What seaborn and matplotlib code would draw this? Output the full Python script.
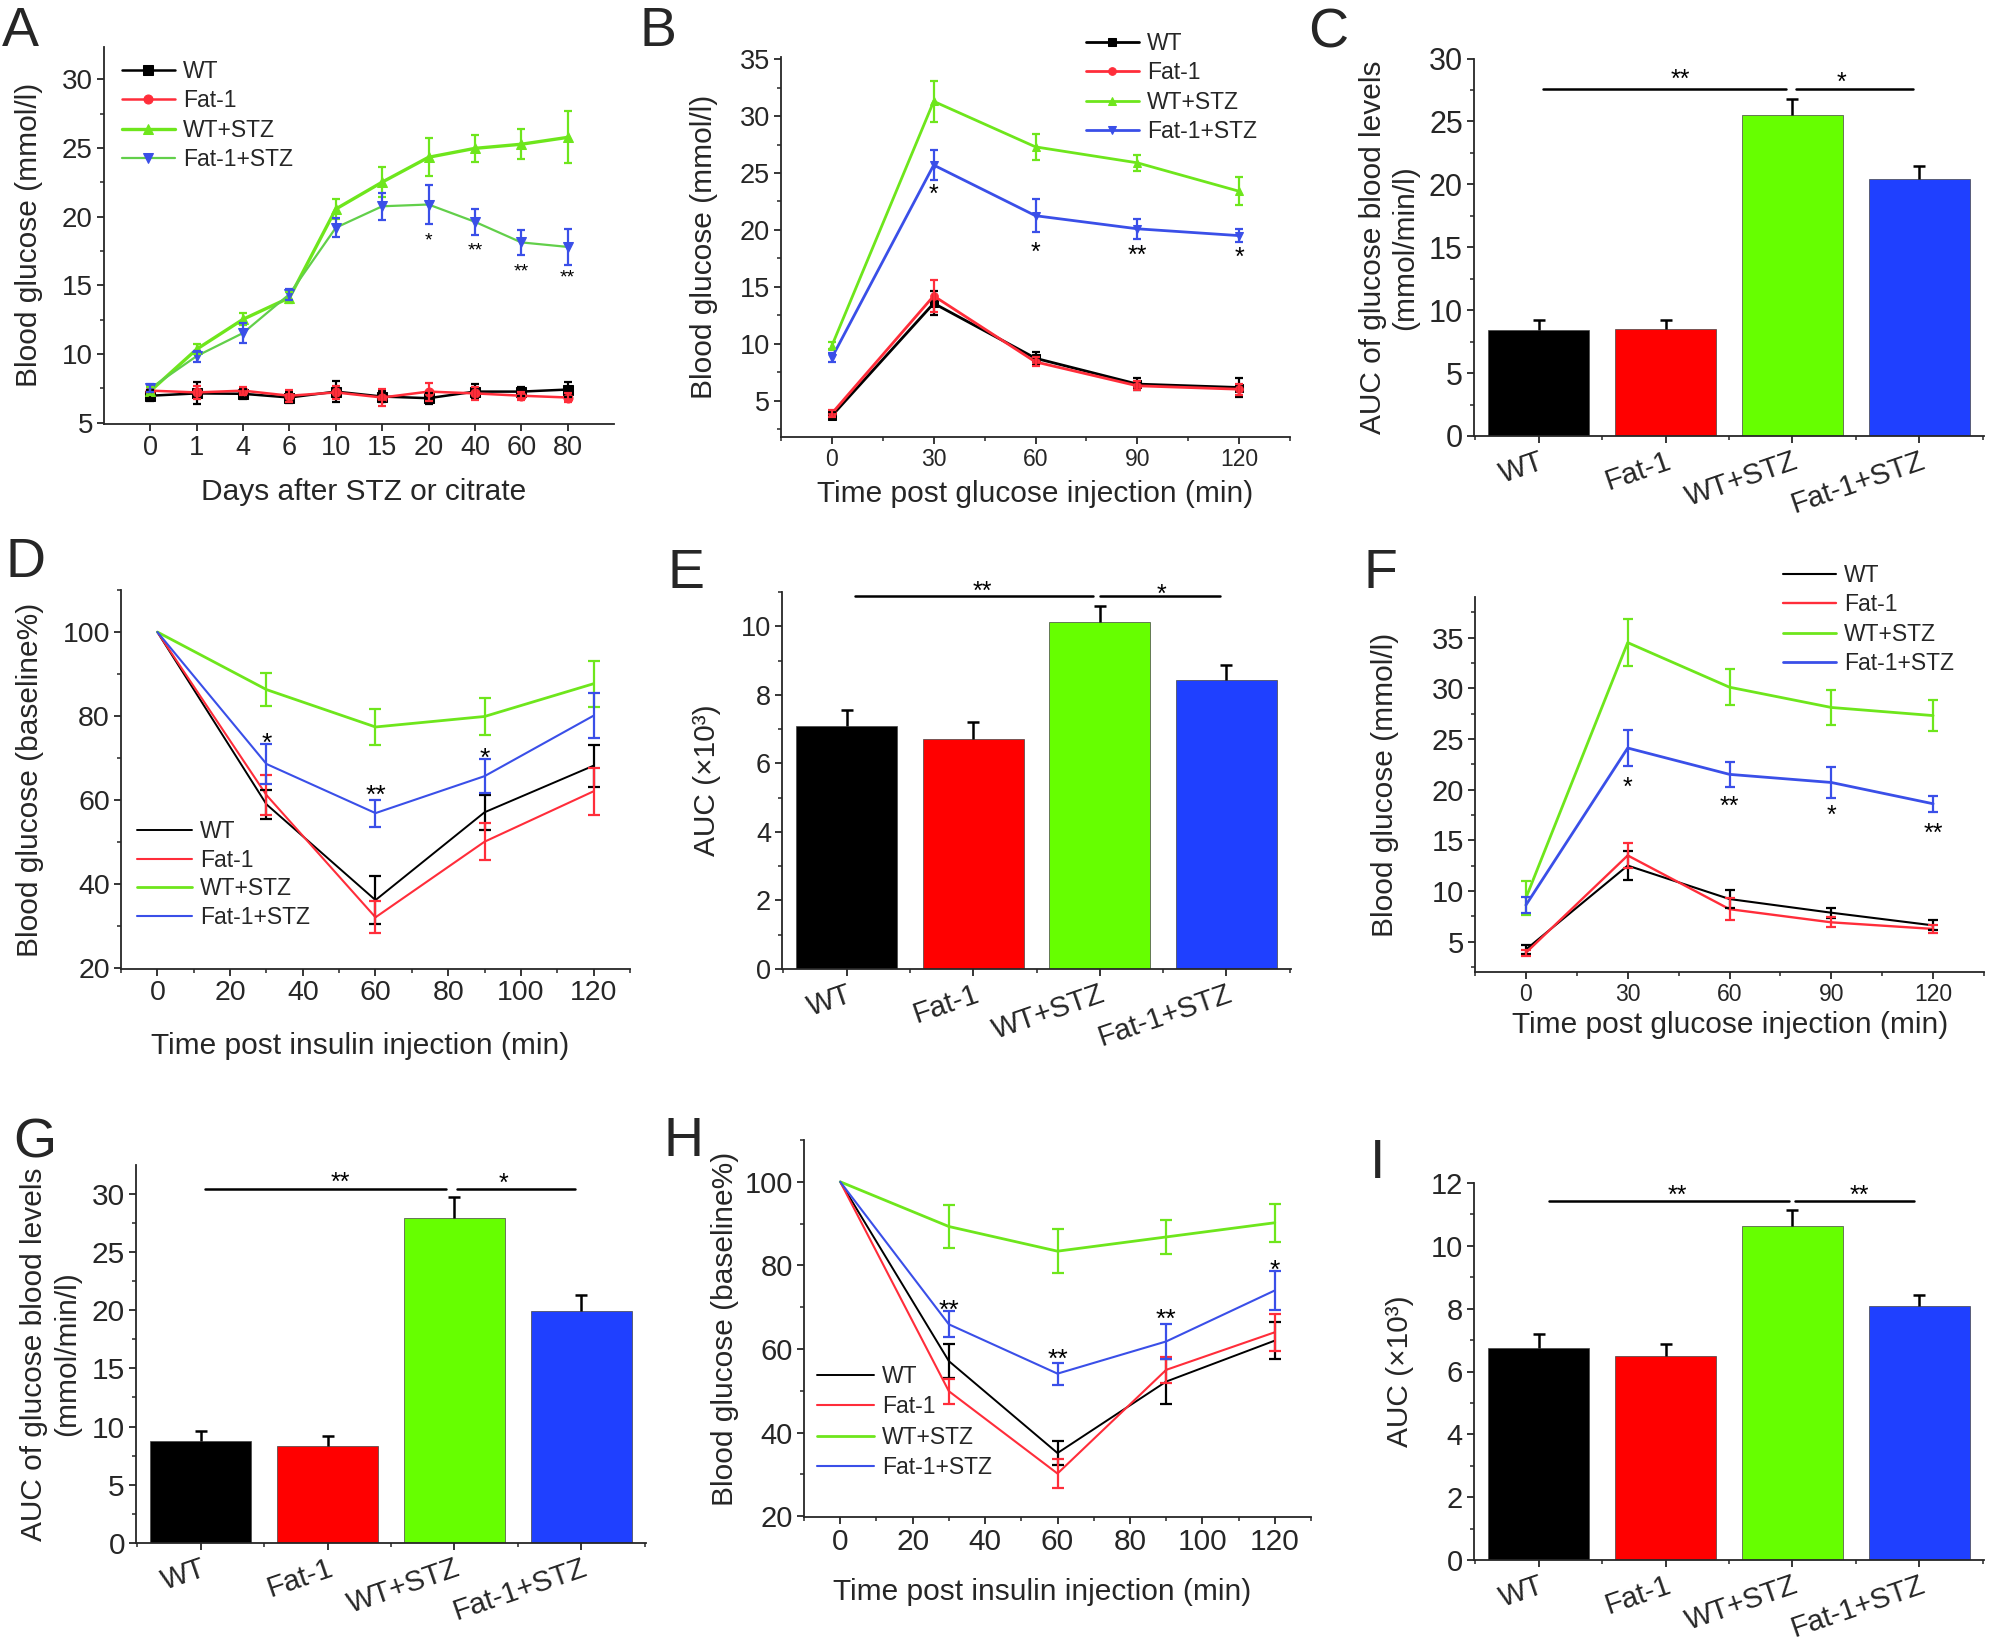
import numpy as np
import pandas as pd
import matplotlib
matplotlib.use("Agg")
import matplotlib.pyplot as plt
from matplotlib.ticker import MultipleLocator
import seaborn as sns

sns.set_style("ticks")
plt.rcParams['font.family'] = ['Liberation Sans', 'DejaVu Sans']

W, H = 1997, 1650

groups = ["WT", "Fat-1", "WT+STZ", "Fat-1+STZ"]
line_col = {"WT": "#000000", "Fat-1": "#ff2d3a", "WT+STZ": "#6ee61c", "Fat-1+STZ": "#3a4fe8"}
bar_col = ["#000000", "#ff0000", "#66ff00", "#1f40ff"]
markers = {"WT": "s", "Fat-1": "o", "WT+STZ": "^", "Fat-1+STZ": "v"}

# ---- A: blood glucose after STZ
a_days = ["0", "1", "4", "6", "10", "15", "20", "40", "60", "80"]
a_wt = [6.96, 7.13, 7.10, 6.83, 7.26, 6.90, 6.78, 7.26, 7.26, 7.41]
a_wt_err = [0.4, 0.8, 0.35, 0.4, 0.75, 0.4, 0.4, 0.55, 0.3, 0.55]
a_fat = [7.33, 7.20, 7.33, 6.96, 7.20, 6.83, 7.26, 7.13, 6.96, 6.83]
a_fat_err = [0.3, 0.5, 0.3, 0.45, 0.5, 0.65, 0.65, 0.5, 0.3, 0.35]
a_wtstz = [7.3, 10.35, 12.53, 14.1, 20.56, 22.52, 24.33, 24.98, 25.28, 25.78]
a_wtstz_err = [0.3, 0.35, 0.45, 0.4, 0.75, 1.1, 1.4, 1.0, 1.1, 1.9]
a_fatstz = [7.5, 9.85, 11.53, 14.36, 19.2, 20.76, 20.89, 19.63, 18.13, 17.8]
a_fatstz_err = [0.3, 0.4, 0.7, 0.4, 0.7, 1.0, 1.45, 0.95, 0.9, 1.3]
a_star_x = [6, 7, 8, 9]
a_star_y = [18.7, 17.95, 16.4, 16.0]
a_star_t = ["*", "**", "**", "**"]

# ---- B: GTT
time_min = [0, 30, 60, 90, 120]
b_wt = [3.67, 13.55, 8.72, 6.45, 6.15]
b_wt_err = [0.3, 1.05, 0.55, 0.55, 0.85]
b_fat = [3.88, 14.2, 8.4, 6.3, 6.0]
b_fat_err = [0.3, 1.4, 0.4, 0.4, 0.5]
b_wtstz = [9.83, 31.3, 27.3, 25.9, 23.4]
b_wtstz_err = [0.3, 1.8, 1.15, 0.7, 1.25]
b_fatstz = [8.78, 25.7, 21.25, 20.1, 19.5]
b_fatstz_err = [0.4, 1.3, 1.45, 0.9, 0.6]
b_star_x = [30, 60, 90, 120]
b_star_y = [23.7, 18.6, 18.3, 18.1]
b_star_t = ["*", "*", "**", "*"]

# ---- C: AUC of GTT
c_auc = [8.45, 8.5, 25.5, 20.4]
c_err = [0.75, 0.75, 1.3, 1.05]
c_sig_y = 27.6
c_sig_spans = [(0.03, 1.95), (2.03, 2.95)]
c_star_x = [1.12, 2.39]
c_star_y = [28.8, 28.6]
c_star_t = ["**", "*"]

# ---- D: ITT
d_wt = [100, 59.0, 36.2, 57.1, 68.2]
d_wt_err = [0, 3.5, 5.7, 4.2, 5.0]
d_fat = [100, 61.2, 32.1, 50.1, 62.1]
d_fat_err = [0, 4.8, 3.8, 4.4, 5.6]
d_wtstz = [100, 86.3, 77.4, 79.9, 87.7]
d_wtstz_err = [0, 3.9, 4.3, 4.5, 5.5]
d_fatstz = [100, 68.6, 56.9, 65.7, 80.1]
d_fatstz_err = [0, 4.7, 3.2, 4.0, 5.3]
d_star_x = [30, 60, 90]
d_star_y = [75.2, 62.9, 71.5]
d_star_t = ["*", "**", "*"]

# ---- E: AUC of ITT
e_auc = [7.09, 6.72, 10.12, 8.44]
e_err = [0.48, 0.48, 0.48, 0.43]
e_sig_y = 10.88
e_sig_spans = [(0.07, 1.95), (2.0, 2.95)]
e_star_x = [1.07, 2.49]
e_star_y = [11.2, 11.1]
e_star_t = ["**", "*"]

# ---- F: GTT (second cohort)
f_wt = [4.22, 12.5, 9.2, 7.85, 6.6]
f_wt_err = [0.4, 1.4, 0.85, 0.5, 0.5]
f_fat = [3.9, 13.5, 8.2, 6.9, 6.25]
f_fat_err = [0.3, 1.2, 1.1, 0.5, 0.4]
f_wtstz = [9.3, 34.5, 30.1, 28.1, 27.3]
f_wtstz_err = [1.7, 2.35, 1.8, 1.7, 1.55]
f_fatstz = [8.6, 24.1, 21.5, 20.7, 18.6]
f_fatstz_err = [0.8, 1.8, 1.25, 1.5, 0.8]
f_star_x = [30, 60, 90, 120]
f_star_y = [20.8, 19.0, 18.1, 16.3]
f_star_t = ["*", "**", "*", "**"]

# ---- G: AUC of F
g_auc = [8.74, 8.37, 27.9, 19.9]
g_err = [0.86, 0.83, 1.8, 1.35]
g_sig_y = 30.4
g_sig_spans = [(0.03, 1.93), (2.02, 2.95)]
g_star_x = [1.1, 2.39]
g_star_y = [31.5, 31.4]
g_star_t = ["**", "*"]

# ---- H: ITT (second cohort)
h_wt = [100, 57.1, 35.1, 52.2, 62.0]
h_wt_err = [0, 4.1, 2.8, 5.3, 4.5]
h_fat = [100, 49.9, 30.2, 55.0, 64.0]
h_fat_err = [0, 3.0, 3.4, 3.1, 4.4]
h_wtstz = [100, 89.3, 83.4, 86.8, 90.2]
h_wtstz_err = [0, 5.2, 5.2, 4.1, 4.5]
h_fatstz = [100, 65.9, 54.1, 61.8, 74.0]
h_fatstz_err = [0, 3.1, 2.65, 4.25, 4.7]
h_star_x = [30, 60, 90, 120]
h_star_y = [71.0, 59.1, 68.7, 80.6]
h_star_t = ["**", "**", "**", "*"]

# ---- I: AUC of H
i_auc = [6.75, 6.5, 10.62, 8.07]
i_err = [0.43, 0.36, 0.51, 0.36]
i_sig_y = 11.42
i_sig_spans = [(0.08, 1.97), (2.02, 2.96)]
i_star_x = [1.09, 2.53]
i_star_y = [11.8, 11.8]
i_star_t = ["**", "**"]


def place(l, t, r, b):
    return [l / W, 1 - b / H, (r - l) / W, (b - t) / H]


def style_axes(ax, xsize, ysize):
    sns.despine(ax=ax)
    for s in ("left", "bottom"):
        ax.spines[s].set_linewidth(1.3)
    ax.tick_params(which="major", direction="out", length=5, width=1.3, pad=3)
    ax.tick_params(which="minor", direction="out", length=3, width=1.1)
    ax.tick_params(axis="x", labelsize=xsize)
    ax.tick_params(axis="y", labelsize=ysize)


def set_labels(ax, rect, xlabel, ylabel, xcx=None, xcy=None, ycx=None, fs=21.5):
    l, t, r, b = rect
    if ylabel:
        ax.set_ylabel(ylabel, fontsize=fs, va="center", ha="center")
        ax.yaxis.set_label_coords((ycx - l) / (r - l), 0.5)
    if xlabel:
        ax.set_xlabel(xlabel, fontsize=fs, va="center", ha="center")
        ax.xaxis.set_label_coords((xcx - l) / (r - l), (b - xcy) / (b - t))


def stars(ax, xs, ys, texts, fs):
    for x, y, t in zip(xs, ys, texts):
        ax.annotate(t, (x, y), xytext=(0, -0.55 * fs), textcoords="offset points",
                    ha="center", va="baseline", fontsize=fs, color="black",
                    annotation_clip=False)


def line_panel(ax, x, series, errs, lw, ms, capsize, use_markers, a_style=False):
    for name in groups:
        color = line_col[name]
        kw = dict(color=color, linewidth=lw[name], label=name, errorbar=None)
        if use_markers:
            kw.update(marker=markers[name], markersize=ms, markerfacecolor=color,
                      markeredgecolor=color)
        if a_style and name == "Fat-1+STZ":
            kw["color"] = "#62cf4a"
        sns.lineplot(x=x, y=series[name], ax=ax, **kw)
    for name in groups:
        xv = np.asarray(x, dtype=float)
        yv = np.asarray(series[name], dtype=float)
        ev = np.asarray(errs[name], dtype=float)
        m = ev > 0
        ax.errorbar(xv[m], yv[m], yerr=ev[m], fmt="none", ecolor=line_col[name],
                    elinewidth=1.6, capsize=capsize, capthick=1.6)


def bar_panel(ax, vals, errs, spans, sig_y, sx, sy, st, fs_star):
    df = pd.DataFrame({"group": groups, "value": vals})
    sns.barplot(data=df, x="group", y="value", hue="group", palette=bar_col,
                legend=False, width=0.8, saturation=1, ax=ax,
                edgecolor="#444444", linewidth=0.5)
    pos = np.arange(len(groups))
    vals = np.asarray(vals)
    _, caps, _ = ax.errorbar(pos, vals, yerr=[np.zeros(len(vals)), errs], fmt="none",
                             ecolor="black", elinewidth=1.8, capsize=4, capthick=1.8)
    for c in caps:
        if np.allclose(c.get_ydata(), vals):
            c.set_visible(False)
    for x0, x1 in spans:
        ax.plot([x0, x1], [sig_y, sig_y], color="black", lw=1.8, clip_on=False)
    stars(ax, sx, sy, st, fs_star)
    ax.set_xlim(-0.51, 3.51)
    ax.set_xticks(pos)
    ax.set_xticklabels(groups, rotation=19, ha="right", rotation_mode="anchor")
    ax.xaxis.set_minor_locator(MultipleLocator(0.5))
    ax.set_xlabel("")


def legend(ax, x_px, y_px, fs=16.5, hl=2.3, spacing=0.25):
    ax.legend(loc="upper left", bbox_to_anchor=(x_px / W, 1 - y_px / H),
              bbox_transform=fig.transFigure, frameon=False, fontsize=fs,
              handlelength=hl, handletextpad=0.35, labelspacing=spacing,
              borderpad=0, borderaxespad=0)


fig = plt.figure(figsize=(W / 100, H / 100), dpi=100)

# ---------------- A
rA = (104, 46.5, 614, 424)
ax = fig.add_axes(place(*rA))
pos_a = np.arange(len(a_days))
line_panel(ax, pos_a,
           {"WT": a_wt, "Fat-1": a_fat, "WT+STZ": a_wtstz, "Fat-1+STZ": a_fatstz},
           {"WT": a_wt_err, "Fat-1": a_fat_err, "WT+STZ": a_wtstz_err, "Fat-1+STZ": a_fatstz_err},
           {"WT": 1.8, "Fat-1": 1.8, "WT+STZ": 2.4, "Fat-1+STZ": 1.6}, 6.5, 3, True, a_style=True)
stars(ax, a_star_x, a_star_y, a_star_t, 14)
ax.set_xlim(-1, 10)
ax.set_ylim(4.9, 32.4)
ax.set_xticks(pos_a)
ax.set_xticklabels(a_days)
ax.set_yticks([5, 10, 15, 20, 25, 30])
ax.yaxis.set_minor_locator(MultipleLocator(2.5))
style_axes(ax, 19.5, 20)
set_labels(ax, rA, "Days after STZ or citrate", "Blood glucose (mmol/l)", 364, 492, 29)
legend(ax, 122, 60, hl=2.3, spacing=0.28)

# ---------------- B
rB = (781, 57, 1290, 437)
ax = fig.add_axes(place(*rB))
line_panel(ax, time_min,
           {"WT": b_wt, "Fat-1": b_fat, "WT+STZ": b_wtstz, "Fat-1+STZ": b_fatstz},
           {"WT": b_wt_err, "Fat-1": b_fat_err, "WT+STZ": b_wtstz_err, "Fat-1+STZ": b_fatstz_err},
           {g: 2.0 for g in groups}, 5.5, 3, True)
stars(ax, b_star_x, b_star_y, b_star_t, 18)
ax.set_xlim(-15, 135)
ax.set_ylim(1.8, 35.2)
ax.set_xticks(time_min)
ax.xaxis.set_minor_locator(MultipleLocator(15))
ax.set_yticks([5, 10, 15, 20, 25, 30, 35])
ax.yaxis.set_minor_locator(MultipleLocator(2.5))
style_axes(ax, 16.5, 19.5)
set_labels(ax, rB, "Time post glucose injection (min)", "Blood glucose (mmol/l)", 1035, 494, 704)
legend(ax, 1086, 32, hl=2.3, spacing=0.28)

# ---------------- C
rC = (1474, 58.5, 1984, 436)
ax = fig.add_axes(place(*rC))
bar_panel(ax, c_auc, c_err, c_sig_spans, c_sig_y, c_star_x, c_star_y, c_star_t, 18)
ax.set_ylim(0, 30)
ax.set_yticks(range(0, 31, 5))
ax.yaxis.set_minor_locator(MultipleLocator(2.5))
style_axes(ax, 21, 22)
set_labels(ax, rC, None, "AUC of glucose blood levels\n(mmol/min/l)", ycx=1389)

# ---------------- D
rD = (121, 590, 630, 969)
ax = fig.add_axes(place(*rD))
line_panel(ax, time_min,
           {"WT": d_wt, "Fat-1": d_fat, "WT+STZ": d_wtstz, "Fat-1+STZ": d_fatstz},
           {"WT": d_wt_err, "Fat-1": d_fat_err, "WT+STZ": d_wtstz_err, "Fat-1+STZ": d_fatstz_err},
           {"WT": 1.4, "Fat-1": 1.5, "WT+STZ": 2.0, "Fat-1+STZ": 1.5}, 0, 4, False)
stars(ax, d_star_x, d_star_y, d_star_t, 19)
ax.set_xlim(-10, 130)
ax.set_ylim(19.8, 110)
ax.set_xticks(range(0, 121, 20))
ax.xaxis.set_minor_locator(MultipleLocator(10))
ax.set_yticks(range(20, 101, 20))
ax.yaxis.set_minor_locator(MultipleLocator(10))
style_axes(ax, 20.5, 20.5)
set_labels(ax, rD, "Time post insulin injection (min)", "Blood glucose (baseline%)", 360, 1046, 29.5)
legend(ax, 137, 820, hl=2.4, spacing=0.25)

# ---------------- E
rE = (782, 592, 1291, 969)
ax = fig.add_axes(place(*rE))
bar_panel(ax, e_auc, e_err, e_sig_spans, e_sig_y, e_star_x, e_star_y, e_star_t, 18)
ax.set_ylim(0, 11)
ax.set_yticks(range(0, 11, 2))
ax.yaxis.set_minor_locator(MultipleLocator(1))
style_axes(ax, 21, 19.5)
set_labels(ax, rE, None, "AUC (×10³)", ycx=707)

# ---------------- F
rF = (1475, 597, 1984, 972)
ax = fig.add_axes(place(*rF))
line_panel(ax, time_min,
           {"WT": f_wt, "Fat-1": f_fat, "WT+STZ": f_wtstz, "Fat-1+STZ": f_fatstz},
           {"WT": f_wt_err, "Fat-1": f_fat_err, "WT+STZ": f_wtstz_err, "Fat-1+STZ": f_fatstz_err},
           {"WT": 1.5, "Fat-1": 1.7, "WT+STZ": 2.0, "Fat-1+STZ": 2.0}, 0, 3.5, False)
stars(ax, f_star_x, f_star_y, f_star_t, 18)
ax.set_xlim(-15, 135)
ax.set_ylim(2, 39)
ax.set_xticks(time_min)
ax.xaxis.set_minor_locator(MultipleLocator(15))
ax.set_yticks([5, 10, 15, 20, 25, 30, 35])
ax.yaxis.set_minor_locator(MultipleLocator(2.5))
style_axes(ax, 16.5, 21)
set_labels(ax, rF, "Time post glucose injection (min)", "Blood glucose (mmol/l)", 1730, 1025, 1385)
legend(ax, 1783, 564, hl=2.3, spacing=0.28)

# ---------------- G
rG = (136, 1165, 646, 1543)
ax = fig.add_axes(place(*rG))
bar_panel(ax, g_auc, g_err, g_sig_spans, g_sig_y, g_star_x, g_star_y, g_star_t, 18)
ax.set_ylim(0, 32.45)
ax.set_yticks(range(0, 31, 5))
ax.yaxis.set_minor_locator(MultipleLocator(2.5))
style_axes(ax, 21, 21.5)
set_labels(ax, rG, None, "AUC of glucose blood levels\n(mmol/min/l)", ycx=50.5)

# ---------------- H
rH = (804, 1140, 1311, 1517)
ax = fig.add_axes(place(*rH))
line_panel(ax, time_min,
           {"WT": h_wt, "Fat-1": h_fat, "WT+STZ": h_wtstz, "Fat-1+STZ": h_fatstz},
           {"WT": h_wt_err, "Fat-1": h_fat_err, "WT+STZ": h_wtstz_err, "Fat-1+STZ": h_fatstz_err},
           {"WT": 1.4, "Fat-1": 1.5, "WT+STZ": 2.0, "Fat-1+STZ": 1.5}, 0, 4, False)
stars(ax, h_star_x, h_star_y, h_star_t, 19)
ax.set_xlim(-10, 130)
ax.set_ylim(19.8, 110)
ax.set_xticks(range(0, 121, 20))
ax.xaxis.set_minor_locator(MultipleLocator(10))
ax.set_yticks(range(20, 101, 20))
ax.yaxis.set_minor_locator(MultipleLocator(10))
style_axes(ax, 21.5, 21)
set_labels(ax, rH, "Time post insulin injection (min)", "Blood glucose (baseline%)", 1042, 1592, 725)
legend(ax, 817, 1365, hl=2.5, spacing=0.32)

# ---------------- I
rI = (1474, 1183, 1984, 1560)
ax = fig.add_axes(place(*rI))
bar_panel(ax, i_auc, i_err, i_sig_spans, i_sig_y, i_star_x, i_star_y, i_star_t, 18)
ax.set_ylim(0, 12)
ax.set_yticks(range(0, 13, 2))
ax.yaxis.set_minor_locator(MultipleLocator(1))
style_axes(ax, 21, 21)
set_labels(ax, rI, None, "AUC (×10³)", ycx=1400)

# panel letters
letters = ["A", "B", "C", "D", "E", "F", "G", "H", "I"]
letter_px = [(2, 6), (640, 6), (1308, 8), (5, 537), (668, 548), (1363, 548),
             (13, 1118), (664, 1116), (1370, 1138)]
for lab, (lx, ly) in zip(letters, letter_px):
    fig.text(lx / W, 1 - ly / H, lab, fontsize=40, ha="left", va="top")

fig.savefig("out.png", dpi=100)
